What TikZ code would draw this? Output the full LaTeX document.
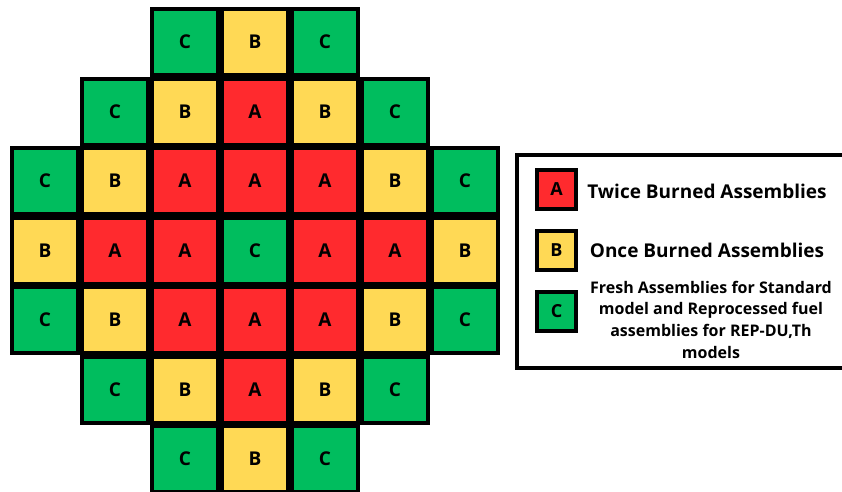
\documentclass[tikz,border=0pt]{standalone}
\usepackage{fontspec}
\setmainfont{Open Sans}
\usepackage{tikz}

\definecolor{twice}{RGB}{255,42,46}
\definecolor{once}{RGB}{255,217,85}
\definecolor{fresh}{RGB}{0,189,94}

\begin{document}
\begin{tikzpicture}[x=1pt,y=-1pt,
	cell/.style={draw=black, line width=4pt, rectangle, minimum size=66pt, inner sep=0pt,
		font=\bfseries\fontsize{19}{22}\selectfont},
	cellA/.style={cell, fill=twice},
	cellB/.style={cell, fill=once},
	cellC/.style={cell, fill=fresh},
	key/.style={draw=black, line width=4pt, rectangle, minimum size=39pt, inner sep=0pt,
		font=\bfseries\fontsize{18}{22}\selectfont},
	keytext/.style={font=\bfseries\fontsize{19}{23}\selectfont}]
	\useasboundingbox (0,0) rectangle (842,491);
	
	% core map
	\node[cellC] (r1c3) at (185,42) {C};
	\node[cellB] (r1c4) at (255,42) {B};
	\node[cellC] (r1c5) at (325,42) {C};
	
	\node[cellC] (r2c2) at (115,112) {C};
	\node[cellB] (r2c3) at (185,112) {B};
	\node[cellA] (r2c4) at (255,112) {A};
	\node[cellB] (r2c5) at (325,112) {B};
	\node[cellC] (r2c6) at (395,112) {C};
	
	\node[cellC] (r3c1) at (45,181) {C};
	\node[cellB] (r3c2) at (115,181) {B};
	\node[cellA] (r3c3) at (185,181) {A};
	\node[cellA] (r3c4) at (255,181) {A};
	\node[cellA] (r3c5) at (325,181) {A};
	\node[cellB] (r3c6) at (395,181) {B};
	\node[cellC] (r3c7) at (465,181) {C};
	
	\node[cellB] (r4c1) at (45,251) {B};
	\node[cellA] (r4c2) at (115,251) {A};
	\node[cellA] (r4c3) at (185,251) {A};
	\node[cellC] (r4c4) at (255,251) {C};
	\node[cellA] (r4c5) at (325,251) {A};
	\node[cellA] (r4c6) at (395,251) {A};
	\node[cellB] (r4c7) at (465,251) {B};
	
	\node[cellC] (r5c1) at (45,320) {C};
	\node[cellB] (r5c2) at (115,320) {B};
	\node[cellA] (r5c3) at (185,320) {A};
	\node[cellA] (r5c4) at (255,320) {A};
	\node[cellA] (r5c5) at (325,320) {A};
	\node[cellB] (r5c6) at (395,320) {B};
	\node[cellC] (r5c7) at (465,320) {C};
	
	\node[cellC] (r6c2) at (115,390) {C};
	\node[cellB] (r6c3) at (185,390) {B};
	\node[cellA] (r6c4) at (255,390) {A};
	\node[cellB] (r6c5) at (325,390) {B};
	\node[cellC] (r6c6) at (395,390) {C};
	
	\node[cellC] (r7c3) at (185,459) {C};
	\node[cellB] (r7c4) at (255,459) {B};
	\node[cellC] (r7c5) at (325,459) {C};
	
	% legend
	\draw[line width=4.5pt] (517,155) rectangle (856,368);
	
	\node[key, fill=twice] (keyA) at (556.5,189.5) {A};
	\node[key, fill=once] (keyB) at (556.5,250.5) {B};
	\node[key, fill=fresh] (keyC) at (556.5,311.5) {C};
	
	\node[keytext] (lblA) at (707,191) {Twice Burned Assemblies};
	\node[keytext] (lblB) at (707,250) {Once Burned Assemblies};
	\node[align=center, font=\bfseries\fontsize{16}{21.7}\selectfont] (lblC) at (711,319.5)
		{Fresh Assemblies for Standard\\model and Reprocessed fuel\\assemblies for REP-DU,Th\\models};
	
\end{tikzpicture}
\end{document}
